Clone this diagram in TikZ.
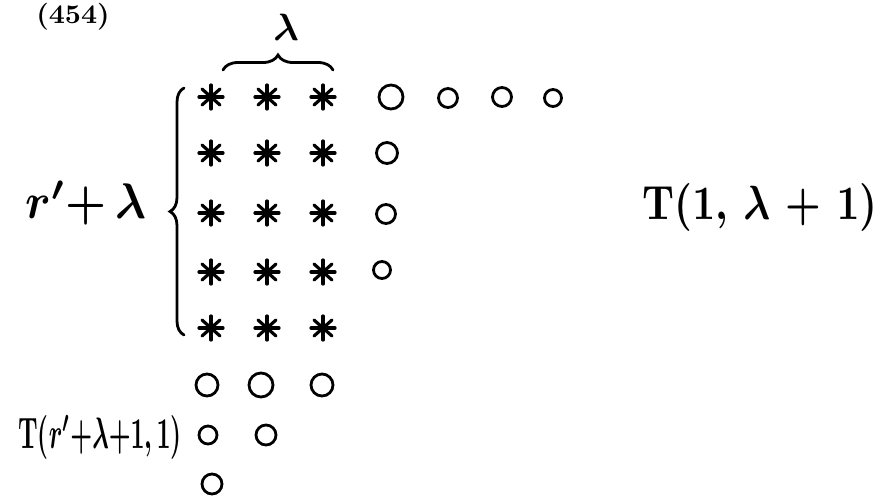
\documentclass[tikz,border=0pt]{standalone}
\usetikzlibrary{decorations.pathreplacing}
\tikzset{
  ink/.style={line width=2.8pt, line cap=round},
  ring/.style={ink, draw, circle, minimum size=#1, inner sep=0pt},
  ring/.default=20pt,
  lbl/.style={inner sep=0pt, font=\normalsize\bfseries\boldmath},
  pics/astr/.style={code={
    \draw[ink, line width=3.2pt] (-12,0) -- (12,0);
    \draw[ink, line width=3.2pt] (0,-12) -- (0,12);
    \draw[ink, line width=3.2pt] (-9,-8) -- (9,8);
    \draw[ink, line width=3.2pt] (-9,8) -- (9,-8);
  }},
}
\begin{document}
\begin{tikzpicture}[x=1pt, y=-1pt]
  \useasboundingbox[fill=white] (0,0) rectangle (889,499);

  % asterisk block: five rows of three
  \foreach \r/\y in {1/97, 2/153, 3/213, 4/272, 5/328}
    \foreach \c/\x in {1/211, 2/267, 3/323}
      \pic at (\x,\y) {astr};

  % circles along the first row
  \node[ring=24pt] (c11) at (391,97) {};
  \node[ring=19pt] (c12) at (448,98) {};
  \node[ring=19pt] (c13) at (502,97) {};
  \node[ring=17pt] (c14) at (553,98) {};
  % circles in column four
  \node[ring=21pt] (c24) at (387,153) {};
  \node[ring=19pt] (c34) at (386,214) {};
  \node[ring=17pt] (c44) at (382,270) {};
  % circles under the block
  \node[ring=22pt] (c61) at (207,385) {};
  \node[ring=24pt] (c62) at (261,385) {};
  \node[ring=22pt] (c63) at (322,385) {};
  \node[ring=18pt] (c71) at (208,435) {};
  \node[ring=20pt] (c72) at (266,435) {};
  \node[ring=20pt] (c81) at (212,484) {};

  % braces
  \draw[ink, decorate, decoration={brace, amplitude=15pt}]
    (223,70) -- (333,70);
  \draw[ink, decorate, decoration={brace, amplitude=14pt}]
    (184,335) -- (184,88);

  % labels
  \node[lbl, xscale=2.8, yscale=2.7] (num) at (73,17) {(454)};
  \node[lbl, scale=3.8] (lam) at (286,27) {$\lambda$};
  \node[lbl, xscale=4.6, yscale=5] (rows) at (86,203) {$r'{+}\,\lambda$};
  \node[lbl, xscale=4.0, yscale=4.8] (tr) at (760,207) {T($1$, $\lambda$ + $1$)};
  \node[lbl, xscale=2.45, yscale=4.4] (tb) at (100,437) {T($r'{+}\lambda{+}1$,\,$1$)};
\end{tikzpicture}
\end{document}
